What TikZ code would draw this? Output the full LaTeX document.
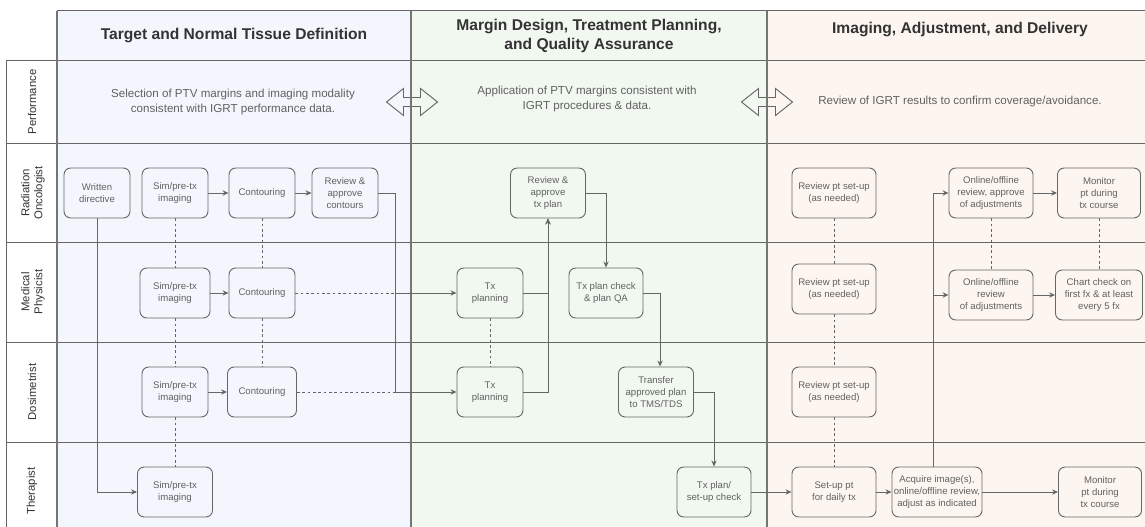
\documentclass[tikz,border=0pt]{standalone}
\usepackage{fontspec}
\setmainfont{Liberation Sans}
\usepackage{xcolor}
\definecolor{laneblue}{HTML}{F3F6FD}
\definecolor{lanegreen}{HTML}{F1F8F0}
\definecolor{lanepeach}{HTML}{FDF6F0}
\definecolor{linegrey}{HTML}{666666}
\definecolor{textgrey}{HTML}{616161}
\definecolor{darkgrey}{HTML}{333333}
\usepackage{tikz}
\usetikzlibrary{arrows.meta,positioning}

\begin{document}
\begin{tikzpicture}[
    x=0.75pt, y=-0.75pt,
    every node/.style={text=textgrey},
    task/.style={draw=linegrey, line width=0.7pt, rounded corners=5pt, minimum width=49.5pt, minimum height=37.5pt, inner xsep=1pt, align=center, font=\fontsize{7.2}{8.8}\selectfont},
    flow/.style={->, >={Stealth[length=4.5pt,width=4pt]}, draw=linegrey, line width=0.7pt},
    link/.style={draw=linegrey, line width=0.6pt, dash pattern=on 2pt off 2pt},
    phase/.style={font=\fontsize{11.7}{13.8}\selectfont\bfseries, text=darkgrey, align=center},
    role/.style={rotate=90, font=\fontsize{8.5}{9.8}\selectfont, text=darkgrey, align=center},
    note/.style={font=\fontsize{8.7}{11.2}\selectfont, align=center}
]
\useasboundingbox (0,0) rectangle (1145,527);

% Swimlane backgrounds
\fill[laneblue] (57,11) rectangle (411,527);
\fill[lanegreen] (411,11) rectangle (767,527);
\fill[lanepeach] (767,11) rectangle (1145,527);

% Double arrows between phases
\foreach \cx in {412,767}
  \draw[linegrey, line width=0.7pt, shift={(\cx,102)}] (-25.5,0) -- (-8.5,-13.5) -- (-8.5,-4.5) -- (8.5,-4.5) -- (8.5,-13.5) -- (25.5,0) -- (8.5,13.5) -- (8.5,4.5) -- (-8.5,4.5) -- (-8.5,13.5) -- cycle;

% Grid
\draw[linegrey, line width=0.75pt] (57,11) -- (1145,11);
\foreach \y in {61,144,243,342,442}
  \draw[linegrey, line width=0.75pt] (6,\y) -- (1145,\y);
\draw[linegrey, line width=0.75pt] (6,61) -- (6,527);
\foreach \x in {57,411,767}
  \draw[linegrey!90, line width=2pt] (\x,11) -- (\x,527);

% Phase headers
\node[phase] (h1) at (234,36) {Target and Normal Tissue Definition};
\node[phase] (h2) at (589,36) {Margin Design, Treatment Planning,\\and Quality Assurance};
\node[phase] (h3) at (960,30) {Imaging, Adjustment, and Delivery};

% Roles
\node[role] (lperf) at (32,102) {Performance};
\node[role] (lro) at (33,193) {Radiation\\Oncologist};
\node[role] (lmp) at (33,292) {Medical\\Physicist};
\node[role] (ldos) at (32,392) {Dosimetrist};
\node[role] (lth) at (32,491) {Therapist};

% Performance row
\node[note] (n1) at (233,102) {Selection of PTV margins and imaging modality\\consistent with IGRT performance data.};
\node[note] (n2) at (587,99) {Application of PTV margins consistent with\\IGRT procedures \& data.};
\node[note] (n3) at (960,102) {Review of IGRT results to confirm coverage/avoidance.};

% Target and normal tissue definition
\node[task] (ro1) at (97,193) {Written\\directive};
\node[task] (ro2) at (175,193) {Sim/pre-tx\\imaging};
\node[task] (ro3) at (262,193) {Contouring};
\node[task] (ro4) at (345,193) {Review \&\\approve\\contours};
\node[task, minimum width=52.5pt] (mp1) at (175,293) {Sim/pre-tx\\imaging};
\node[task] (mp2) at (262,293) {Contouring};
\node[task] (ds1) at (175,392) {Sim/pre-tx\\imaging};
\node[task, minimum width=51.75pt] (ds2) at (262,392) {Contouring};
\node[task, minimum width=56.25pt] (th1) at (175,492) {Sim/pre-tx\\imaging};

% Margin design, planning and QA
\node[task, minimum width=56.25pt] (ro5) at (548,193) {Review \&\\approve\\tx plan};
\node[task] (mp3) at (490,293) {Tx\\planning};
\node[task, minimum width=55.5pt] (mp4) at (606,293) {Tx plan check\\\& plan QA};
\node[task] (ds3) at (490,392) {Tx\\planning};
\node[task, minimum width=56.25pt] (ds4) at (656,392) {Transfer\\approved plan\\to TMS/TDS};
\node[task, minimum width=55.5pt] (th2) at (714,492) {Tx plan/\\set-up check};

% Imaging, adjustment and delivery
\node[task, minimum width=63pt] (ro6) at (834,193) {Review pt set-up\\(as needed)};
\node[task, minimum width=63pt] (ro7) at (991,193) {Online/offline\\review, approve\\of adjustments};
\node[task, minimum width=62.25pt] (ro8) at (1099,193) {Monitor\\pt during\\tx course};
\node[task, minimum width=63pt] (mp5) at (834,289) {Review pt set-up\\(as needed)};
\node[task, minimum width=63pt] (mp6) at (991,295) {Online/offline\\review\\of adjustments};
\node[task, minimum width=65.25pt] (mp7) at (1099,295) {Chart check on\\first fx \& at least\\every 5 fx};
\node[task, minimum width=63pt] (ds5) at (834,392) {Review pt set-up\\(as needed)};
\node[task, minimum width=63pt] (th3) at (834,492) {Set-up pt\\for daily tx};
\node[task, minimum width=67.5pt] (th4) at (937,492) {Acquire image(s),\\online/offline review,\\adjust as indicated};
\node[task, minimum width=62.25pt] (th5) at (1100,492) {Monitor\\pt during\\tx course};

% Junctions
\coordinate (jc) at (395,293);
\coordinate (jd) at (395,392);

% Relationships
\draw[flow] (ro2) -- (ro3);
\draw[flow] (ro3) -- (ro4);
\draw[flow] (mp1) -- (mp2);
\draw[flow] (ds1) -- (ds2);
\draw[flow] (ro1.south) |- (th1.west);
\draw[link] (ro2) -- (mp1);
\draw[link] (mp1) -- (ds1);
\draw[link] (ds1) -- (th1);
\draw[link] (ro3) -- (mp2);
\draw[link] (mp2) -- (ds2);
\draw[link] (mp2.east) -- (jc);
\draw[link] (ds2.east) -- (jd);
\draw[flow] (ro4.east) -| (jc) -- (mp3.west);
\draw[flow] (ro4.east) -| (jd) -- (ds3.west);

\draw[link] (mp3) -- (ds3);
\draw[flow] (mp3.east) -| (ro5.south);
\draw[flow] (ds3.east) -| (ro5.south);
\draw[flow] (ro5.east) -| (mp4.north);
\draw[flow] (mp4.east) -| ([xshift=3pt]ds4.north);
\draw[flow] (ds4.east) -| (th2.north);
\draw[flow] (th2) -- (th3);

\draw[link] (ro6) -- (mp5);
\draw[link] (mp5) -- (ds5);
\draw[link] (ds5) -- (th3);
\draw[link] (ro7) -- (mp6);
\draw[link] (ro8) -- (mp7);
\draw[flow] (th3) -- (th4);
\draw[flow] (th4) -- (th5);
\draw[flow] ([xshift=-3pt]th4.north) |- (ro7.west);
\draw[flow] ([xshift=-3pt]th4.north) |- (mp6.west);
\draw[flow] (ro7) -- (ro8);
\draw[flow] (mp6) -- (mp7);
\end{tikzpicture}
\end{document}
